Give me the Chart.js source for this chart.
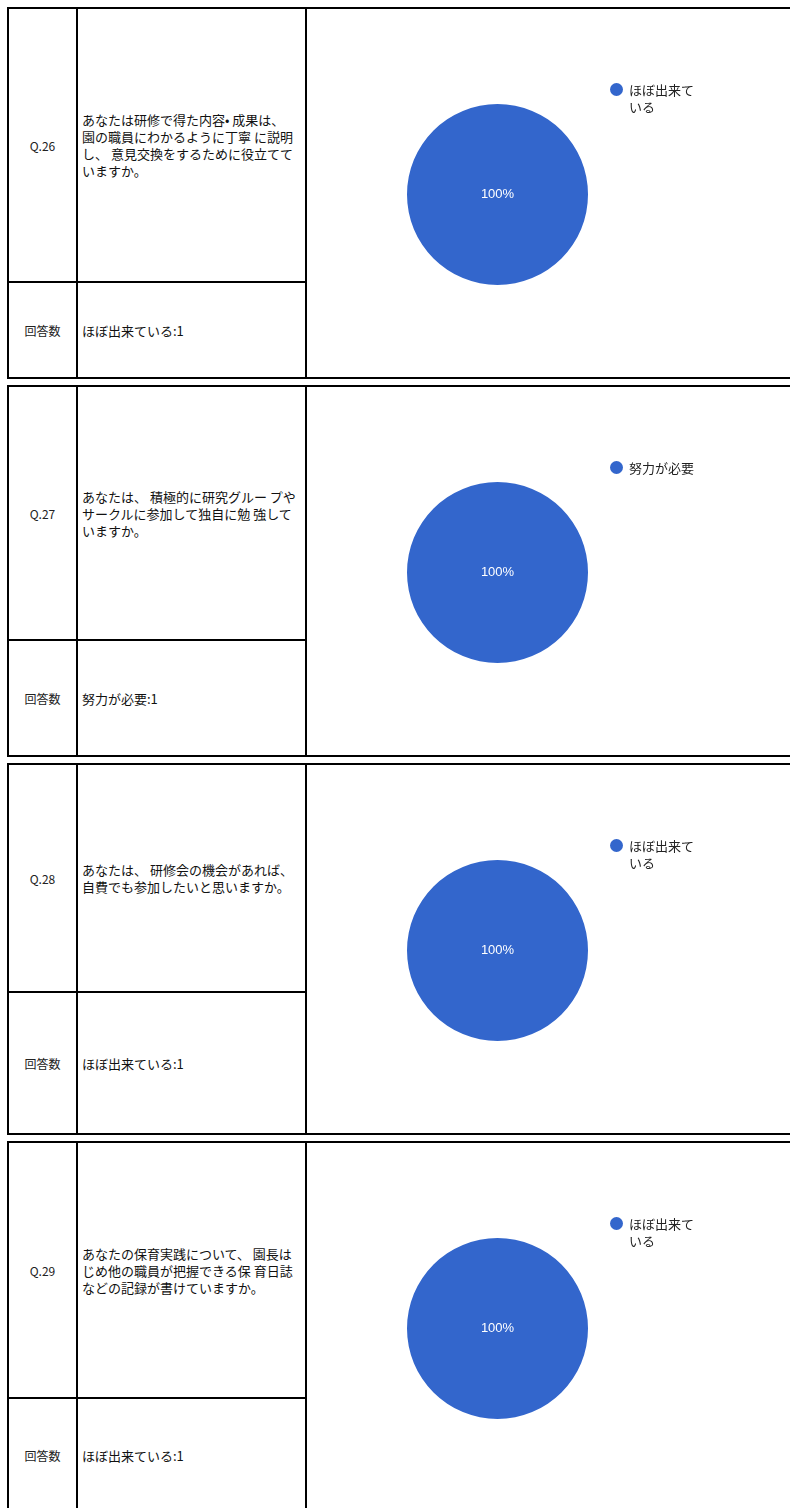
<!DOCTYPE html>
<html lang="ja">
<head>
<meta charset="utf-8">
<title>アンケート結果 Q.26〜Q.29</title>
<script src="https://cdn.jsdelivr.net/npm/chart.js@4.4.1/dist/chart.umd.min.js"></script>
<style>
  html, body {
    margin: 0;
    padding: 0;
    background: #fff;
    overflow: hidden;
  }
  body {
    font-family: "Noto Sans CJK JP", "Noto Sans", sans-serif;
    color: #111;
  }
  .result {
    margin: 7px 0 0 7px;
    border: 2px solid #000;
    border-collapse: separate;
    border-spacing: 0;
    table-layout: fixed;
    width: 862px;
  }
  .result + .result {
    margin-top: 6px;
  }
  .result td {
    padding: 0;
    vertical-align: middle;
    box-sizing: content-box;
  }
  .num {
    width: 67px;
    border-right: 2px solid #000;
    text-align: center;
    font-size: 12px;
    color: #222;
  }
  .text {
    width: 219px;
    padding: 0 4px !important;
    border-right: 2px solid #000;
    font-size: 13px;
    line-height: 17px;
    white-space: pre;
  }
  .top td.num,
  .top td.text {
    border-bottom: 2px solid #000;
  }
  .chart-cell {
    position: relative;
    vertical-align: top !important;
  }
  .chart-cell canvas {
    position: absolute;
    left: 0;
    top: 0;
  }
  .legend {
    position: absolute;
    left: 303px;
    top: 72px;
    margin: 0;
    padding: 0;
    list-style: none;
    font-size: 13px;
    line-height: 17px;
    color: #222;
  }
  .legend li {
    display: flex;
    align-items: flex-start;
  }
  .legend .dot {
    flex: none;
    width: 13px;
    height: 13px;
    margin: 2px 6px 0 0;
    border-radius: 50%;
  }
  .legend .label {
    width: 68px;
  }
</style>
</head>
<body>
<div id="results"></div>
<script>
// Question data
const questionNumbers = ['Q.26', 'Q.27', 'Q.28', 'Q.29'];
const questionTexts = [
  'あなたは研修で得た内容• 成果は、\n園の職員にわかるように丁寧 に説明\nし、 意見交換をするために役立てて\nいますか。',
  'あなたは、 積極的に研究グルー プや\nサークルに参加して独自に勉 強して\nいますか。',
  'あなたは、 研修会の機会があれば、\n自費でも参加したいと思いますか。',
  'あなたの保育実践について、 園長は\nじめ他の職員が把握できる保 育日誌\nなどの記録が書けていますか。',
];
const answerLabels = [
  ['ほぼ出来ている'],
  ['努力が必要'],
  ['ほぼ出来ている'],
  ['ほぼ出来ている'],
];
const answerCounts = [[1], [1], [1], [1]];

// Layout / style
const topRowHeights = [272, 252, 226, 254];
const tableInnerHeight = 368;
const sliceColors = ['#3366cc', '#dc3912', '#ff9900', '#109618'];

// Draw the percentage on each slice
const percentLabels = {
  id: 'percentLabels',
  afterDatasetsDraw(chart) {
    const ctx = chart.ctx;
    const values = chart.data.datasets[0].data;
    const total = values.reduce((a, b) => a + b, 0);
    chart.getDatasetMeta(0).data.forEach((arc, i) => {
      const pct = Math.round((values[i] / total) * 100);
      const full = arc.circumference >= Math.PI * 2 - 0.0001;
      const pos = full ? { x: arc.x, y: arc.y } : arc.tooltipPosition();
      ctx.save();
      ctx.fillStyle = '#fff';
      ctx.font = '13px "Liberation Sans", Arial, sans-serif';
      ctx.textAlign = 'center';
      ctx.textBaseline = 'middle';
      ctx.fillText(pct + '%', pos.x, pos.y);
      ctx.restore();
    });
  },
};

// Build an html legend next to the pie
function buildLegend(chart, container) {
  const list = document.createElement('ul');
  list.className = 'legend';
  chart.data.labels.forEach((label, i) => {
    const item = document.createElement('li');
    const dot = document.createElement('span');
    dot.className = 'dot';
    dot.style.background = chart.data.datasets[0].backgroundColor[i];
    const text = document.createElement('span');
    text.className = 'label';
    text.textContent = label;
    item.appendChild(dot);
    item.appendChild(text);
    list.appendChild(item);
  });
  container.appendChild(list);
}

function createPieChart(canvas, labels, counts) {
  return new Chart(canvas.getContext('2d'), {
    type: 'pie',
    data: {
      labels: labels,
      datasets: [
        {
          data: counts,
          backgroundColor: sliceColors.slice(0, counts.length),
          borderWidth: 0,
        },
      ],
    },
    options: {
      responsive: false,
      animation: false,
      layout: { padding: { top: 95, bottom: 92, left: 0, right: 0 } },
      plugins: {
        legend: { display: false },
        tooltip: { enabled: false },
      },
    },
    plugins: [percentLabels],
  });
}

const results = document.getElementById('results');

questionNumbers.forEach((qNum, i) => {
  const table = document.createElement('table');
  table.className = 'result';

  const topRow = table.insertRow();
  topRow.className = 'top';
  const numCell = topRow.insertCell();
  numCell.className = 'num';
  numCell.textContent = qNum;
  numCell.style.height = topRowHeights[i] + 'px';
  const textCell = topRow.insertCell();
  textCell.className = 'text';
  textCell.textContent = questionTexts[i];
  const chartCell = topRow.insertCell();
  chartCell.className = 'chart-cell';
  chartCell.rowSpan = 2;
  chartCell.style.height = tableInnerHeight + 'px';

  const bottomRow = table.insertRow();
  const countLabel = bottomRow.insertCell();
  countLabel.className = 'num';
  countLabel.textContent = '回答数';
  countLabel.style.height = tableInnerHeight - topRowHeights[i] - 2 + 'px';
  const countText = bottomRow.insertCell();
  countText.className = 'text';
  countText.textContent = answerLabels[i]
    .map((label, j) => label + ':' + answerCounts[i][j])
    .join('\n');

  results.appendChild(table);

  const canvas = document.createElement('canvas');
  canvas.width = 381;
  canvas.height = tableInnerHeight;
  chartCell.appendChild(canvas);

  const chart = createPieChart(canvas, answerLabels[i], answerCounts[i]);
  buildLegend(chart, chartCell);
});
</script>
</body>
</html>
